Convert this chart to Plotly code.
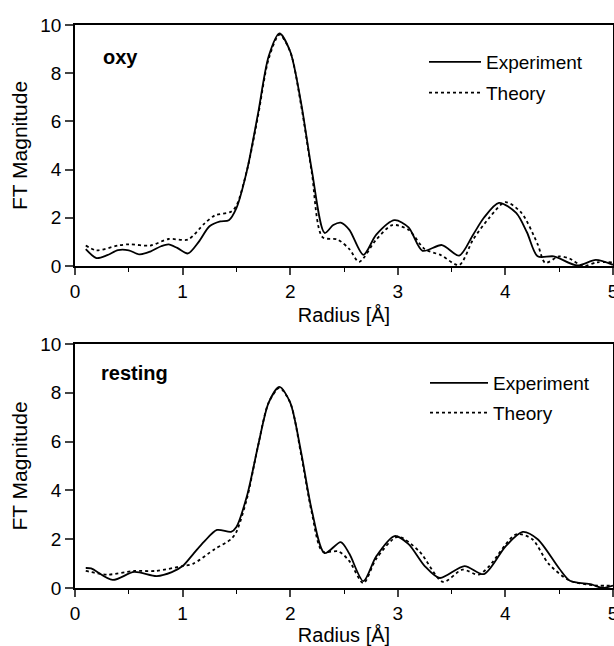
import plotly.graph_objects as go

# ---- data ----
oxy_exp_r = [0.1, 0.2, 0.3, 0.4, 0.5, 0.6, 0.7, 0.8, 0.87, 0.95, 1.05, 1.15, 1.25, 1.35, 1.43, 1.5,
             1.6, 1.7, 1.8, 1.9, 2.0, 2.1, 2.2, 2.32, 2.4, 2.47, 2.55, 2.68, 2.8, 2.97, 3.1, 3.23,
             3.41, 3.57, 3.7, 3.8, 3.94, 4.1, 4.2, 4.3, 4.45, 4.67, 4.84, 5.0]
oxy_exp_y = [0.7, 0.33, 0.45, 0.66, 0.65, 0.48, 0.6, 0.82, 0.9, 0.75, 0.52, 1.0, 1.65, 1.85, 1.9, 2.4,
             4.0, 6.3, 8.7, 9.65, 8.9, 6.8, 4.0, 1.37, 1.7, 1.8, 1.5, 0.46, 1.3, 1.9, 1.6, 0.63,
             0.87, 0.43, 1.3, 2.0, 2.62, 2.2, 1.4, 0.4, 0.4, 0.02, 0.25, 0.05]

oxy_th_r = [0.1, 0.2, 0.4, 0.5, 0.7, 0.87, 1.05, 1.2, 1.3, 1.45, 1.5, 1.6, 1.7, 1.8, 1.9, 2.0,
            2.1, 2.2, 2.3, 2.44, 2.55, 2.64, 2.8, 2.95, 3.1, 3.25, 3.4, 3.57, 3.7, 3.85, 4.0,
            4.15, 4.3, 4.37, 4.5, 4.6, 4.72, 4.85, 5.0]
oxy_th_y = [0.85, 0.65, 0.85, 0.9, 0.85, 1.12, 1.1, 1.75, 2.1, 2.25, 2.5, 4.0, 6.2, 8.6, 9.6, 8.9,
            6.7, 3.9, 1.2, 1.1, 0.7, 0.17, 1.1, 1.7, 1.5, 0.7, 0.45, 0.04, 1.1, 2.0, 2.65,
            2.2, 0.9, 0.13, 0.4, 0.3, 0.0, 0.15, 0.15]

rest_exp_r = [0.1, 0.15, 0.35, 0.55, 0.76, 0.9, 1.0, 1.1, 1.2, 1.32, 1.45, 1.5, 1.6, 1.7, 1.8, 1.9,
              2.0, 2.1, 2.2, 2.32, 2.47, 2.55, 2.68, 2.8, 2.97, 3.1, 3.25, 3.39, 3.62, 3.8, 4.0,
              4.16, 4.3, 4.5, 4.6, 4.8, 4.9, 5.0]
rest_exp_y = [0.82, 0.8, 0.33, 0.66, 0.49, 0.65, 0.9, 1.4, 1.9, 2.38, 2.3, 2.5, 3.8, 5.8, 7.6, 8.24,
              7.6, 5.6, 3.2, 1.43, 1.88, 1.4, 0.28, 1.3, 2.13, 1.8, 0.9, 0.41, 0.9, 0.57, 1.7,
              2.3, 2.0, 0.8, 0.3, 0.15, 0.0, 0.1]

rest_th_r = [0.1, 0.3, 0.55, 0.75, 1.0, 1.1, 1.3, 1.45, 1.5, 1.6, 1.7, 1.8, 1.9, 2.0, 2.1, 2.2,
             2.3, 2.45, 2.55, 2.68, 2.8, 3.0, 3.2, 3.42, 3.6, 3.75, 3.85, 4.1, 4.25, 4.4, 4.6,
             4.85, 5.0]
rest_th_y = [0.7, 0.55, 0.7, 0.7, 0.9, 1.0, 1.6, 2.0, 2.3, 3.7, 5.8, 7.6, 8.2, 7.6, 5.5, 3.1,
             1.5, 1.5, 1.1, 0.2, 1.2, 2.1, 1.5, 0.25, 0.75, 0.55, 0.9, 2.2, 2.0, 1.0, 0.3,
             0.1, 0.1]

x_ticks = [0, 1, 2, 3, 4, 5]
y_ticks = [0, 2, 4, 6, 8, 10]
panel_labels = ["oxy", "resting"]
series_names = ["Experiment", "Theory"]

W, H = 614, 646
FONT = "Liberation Sans, Arial, Helvetica, sans-serif"

fig = go.Figure()

panels = [
    (oxy_exp_r, oxy_exp_y, oxy_th_r, oxy_th_y, "x", "y", "legend"),
    (rest_exp_r, rest_exp_y, rest_th_r, rest_th_y, "x2", "y2", "legend2"),
]
for er, ey, tr, ty, xa, ya, lg in panels:
    fig.add_trace(go.Scatter(x=er, y=ey, mode="lines", name=series_names[0], xaxis=xa, yaxis=ya,
                             line=dict(color="black", width=1.8, shape="spline", smoothing=0.8),
                             legend=lg, legendgroup=lg + "a"))
    fig.add_trace(go.Scatter(x=tr, y=ty, mode="lines", name=series_names[1], xaxis=xa, yaxis=ya,
                             line=dict(color="black", width=1.8, dash="dot", shape="spline", smoothing=0.8),
                             legend=lg, legendgroup=lg + "b"))

xdom = [75 / W, 613 / W]
ydom_top = [1 - 266 / H, 1 - 25 / H]
ydom_bot = [1 - 588 / H, 1 - 344 / H]

xax = dict(range=[0, 5], tickvals=x_ticks, ticks="outside", ticklen=7, tickwidth=1.5,
           showline=True, linewidth=1.5, linecolor="black", mirror=True, showgrid=False,
           zeroline=False, tickfont=dict(size=19, color="black", family=FONT),
           ticklabeloverflow="allow", automargin=False,
           minor=dict(dtick=0.5, ticks="outside", ticklen=4, tickwidth=1.2, tickcolor="black"),
           title=dict(text="Radius [Å]", font=dict(size=20, color="black", family=FONT), standoff=7),
           domain=xdom, fixedrange=True)
yax = dict(range=[0, 10], tickvals=y_ticks, ticks="outside", ticklen=8, tickwidth=1.5,
           showline=True, linewidth=1.5, linecolor="black", mirror=True, showgrid=False,
           zeroline=False, tickfont=dict(size=19, color="black", family=FONT),
           ticklabeloverflow="allow", automargin=False,
           title=dict(text="FT Magnitude", font=dict(size=21, color="black", family=FONT), standoff=7),
           fixedrange=True)

LEGFONT = dict(size=19, color="black", family=FONT)
fig.update_layout(
    template="none",
    width=W, height=H,
    margin=dict(l=0, r=0, t=0, b=0, pad=0),
    paper_bgcolor="white", plot_bgcolor="white",
    font=dict(family=FONT, color="black"),
    xaxis=dict(xax, anchor="y"),
    yaxis=dict(yax, domain=ydom_top, anchor="x"),
    xaxis2=dict(xax, anchor="y2"),
    yaxis2=dict(yax, domain=ydom_bot, anchor="x2"),
    legend=dict(x=424 / W, y=1 - 43 / H, xanchor="left", yanchor="top", bgcolor="rgba(0,0,0,0)",
                font=LEGFONT, tracegroupgap=3, itemwidth=52),
    legend2=dict(x=425 / W, y=1 - 364 / H, xanchor="left", yanchor="top", bgcolor="rgba(0,0,0,0)",
                 font=LEGFONT, tracegroupgap=2, itemwidth=58),
    showlegend=True,
    annotations=[
        dict(text="<b>" + panel_labels[0] + "</b>", x=0.24, y=8.67, xref="x", yref="y",
             xanchor="left", yanchor="middle", showarrow=False,
             font=dict(size=20, color="black", family=FONT)),
        dict(text="<b>" + panel_labels[1] + "</b>", x=0.22, y=8.8, xref="x2", yref="y2",
             xanchor="left", yanchor="middle", showarrow=False,
             font=dict(size=20, color="black", family=FONT)),
    ],
)

fig.write_html("out.html")
